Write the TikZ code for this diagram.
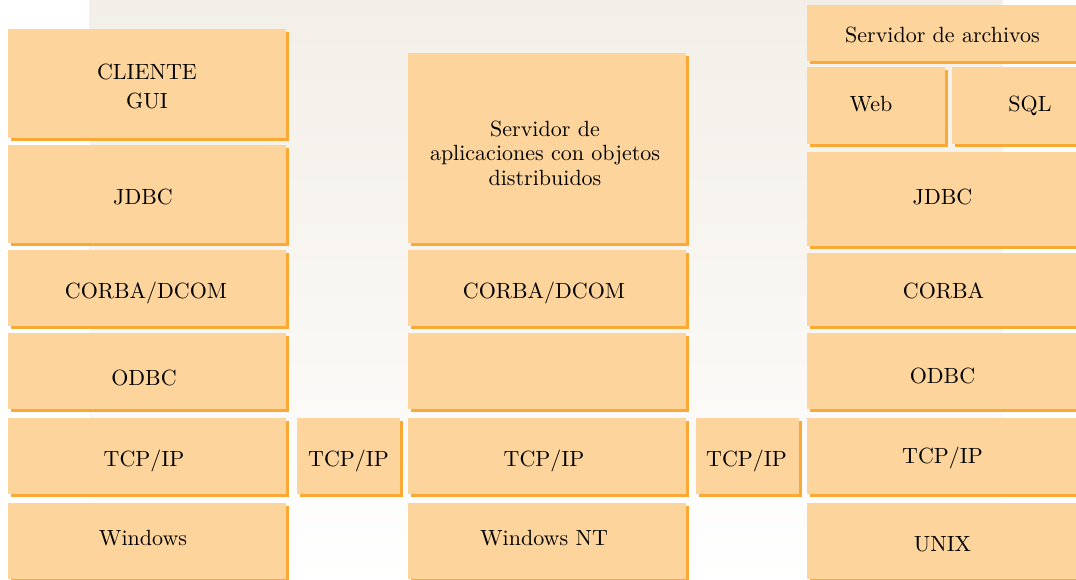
\documentclass[tikz,border=0pt]{standalone}
\usepackage{fontspec}
\newfontfamily\serf{lmroman10-regular.otf}
\usetikzlibrary{shadows}
\definecolor{boxc}{HTML}{FDD59C}
\definecolor{shc}{HTML}{FBA935}
\definecolor{bgc}{HTML}{F3EFE8}
\tikzset{
  blk/.style={fill=boxc, draw=none, inner sep=0pt,
    general shadow={fill=shc, shadow xshift=3pt, shadow yshift=-3pt}},
  txt/.style={inner sep=0pt, text height=15pt, text depth=0pt,
    font=\serf\fontsize{22}{24}\selectfont, text=black},
  mtxt/.style={inner sep=0pt, align=center,
    font=\serf\fontsize{22}{24.5}\selectfont, text=black},
}
\begin{document}
\begin{tikzpicture}[x=1pt,y=-1pt]
\useasboundingbox (0,0) rectangle (1076,580);
\clip (0,0) rectangle (1076,580);
\shade[top color=bgc, bottom color=white, middle color=bgc!55] (89,0) rectangle (1003,580);
% left column
\node[blk, minimum width=278, minimum height=109] (cli) at (147,83.5) {};
\node[blk, minimum width=278, minimum height=98] (ljdbc) at (147,194) {};
\node[blk, minimum width=278, minimum height=76] (lcorba) at (147,288) {};
\node[blk, minimum width=278, minimum height=76] (lodbc) at (147,371) {};
\node[blk, minimum width=278, minimum height=76] (ltcp) at (147,456) {};
\node[blk, minimum width=278, minimum height=76] (lwin) at (147,541) {};
% link boxes
\node[blk, minimum width=103, minimum height=76] (t1) at (348.5,456) {};
\node[blk, minimum width=103, minimum height=76] (t2) at (747.5,456) {};
% middle column
\node[blk, minimum width=278, minimum height=190] (msrv) at (547,148) {};
\node[blk, minimum width=278, minimum height=76] (mcorba) at (547,288) {};
\node[blk, minimum width=278, minimum height=76] (mempty) at (547,371) {};
\node[blk, minimum width=278, minimum height=76] (mtcp) at (547,456) {};
\node[blk, minimum width=278, minimum height=76] (mwin) at (547,541) {};
% right column
\node[blk, minimum width=273, minimum height=56] (rfile) at (943.5,33) {};
\node[blk, minimum width=138, minimum height=77] (rweb) at (876,105.5) {};
\node[blk, minimum width=156, minimum height=77] (rsql) at (1030,105.5) {};
\node[blk, minimum width=273, minimum height=94] (rjdbc) at (943.5,199) {};
\node[blk, minimum width=273, minimum height=73] (rcorba) at (943.5,289.5) {};
\node[blk, minimum width=273, minimum height=76] (rodbc) at (943.5,371) {};
\node[blk, minimum width=273, minimum height=76] (rtcp) at (943.5,456) {};
\node[blk, minimum width=273, minimum height=76] (runix) at (943.5,541) {};
% texts
\node[txt] (cliA) at ([shift={(0,-11.5)}]cli.center) {CLIENTE};
\node[txt] (cliB) at ([shift={(0,17.5)}]cli.center) {GUI};
\node[txt] at ([shift={(-4,3)}]ljdbc.center) {JDBC};
\node[txt] at ([shift={(-1,3)}]lcorba.center) {CORBA/DCOM};
\node[txt] at ([shift={(-3,7)}]lodbc.center) {ODBC};
\node[txt] at ([shift={(-3,3)}]ltcp.center) {TCP/IP};
\node[txt] at ([shift={(-4,-3)}]lwin.center) {Windows};
\node[txt] at ([shift={(0,3)}]t1.center) {TCP/IP};
\node[txt] at ([shift={(-1,3)}]t2.center) {TCP/IP};
\node[mtxt] at ([shift={(-2,5)}]msrv.center) {Servidor de\\aplicaciones con objetos\\distribuidos};
\node[txt] at ([shift={(-3,3)}]mcorba.center) {CORBA/DCOM};
\node[txt] at ([shift={(-3,3)}]mtcp.center) {TCP/IP};
\node[txt] at ([shift={(-3,-3)}]mwin.center) {Windows NT};
\node[txt] at ([shift={(-1,2)}]rfile.center) {Servidor de archivos};
\node[txt] at ([shift={(-5,-1.5)}]rweb.center) {Web};
\node[txt] at ([shift={(0,-1.5)}]rsql.center) {SQL};
\node[txt] at ([shift={(-1,-2)}]rjdbc.center) {JDBC};
\node[txt] at ([shift={(0,1.5)}]rcorba.center) {CORBA};
\node[txt] at ([shift={(-1,5)}]rodbc.center) {ODBC};
\node[txt] at ([shift={(-1,0)}]rtcp.center) {TCP/IP};
\node[txt] at ([shift={(-1,3)}]runix.center) {UNIX};
\end{tikzpicture}
\end{document}
